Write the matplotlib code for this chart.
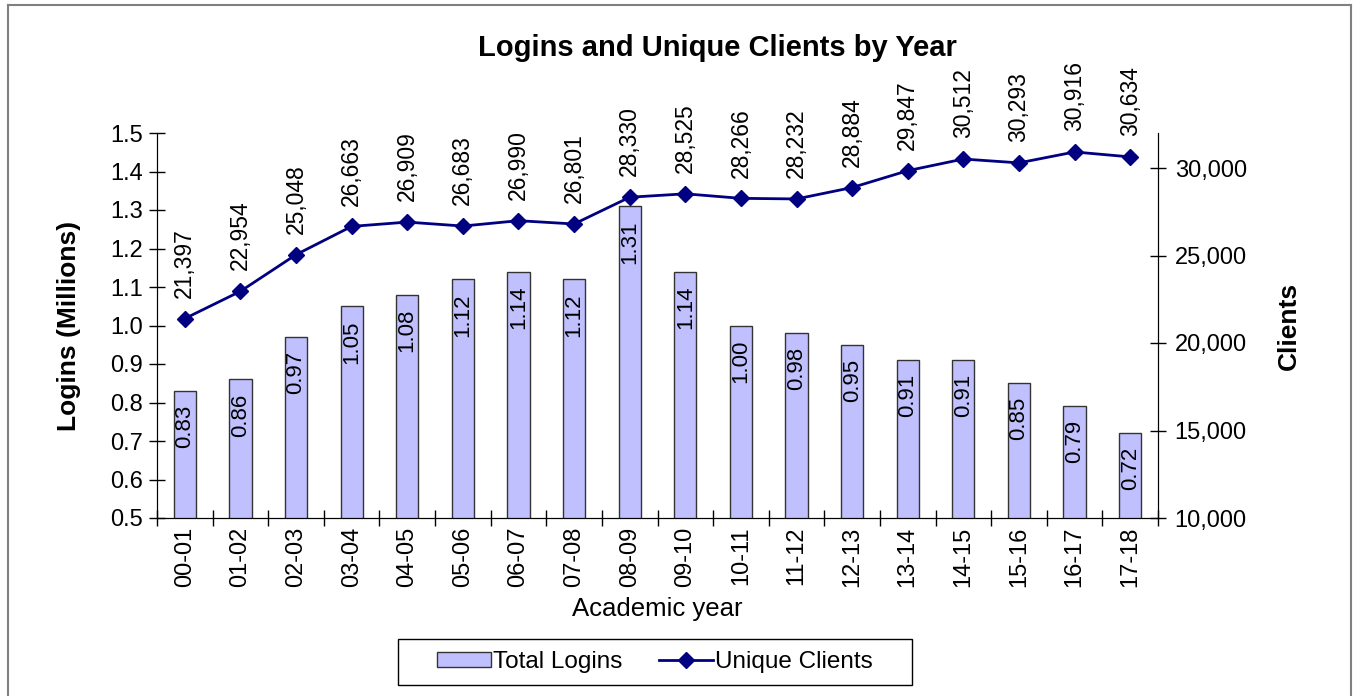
import numpy as np
import matplotlib.pyplot as plt
from matplotlib.lines import Line2D
from matplotlib.patches import Rectangle

plt.rcParams['font.family'] = ['Liberation Sans', 'DejaVu Sans']

years = ["00-01", "01-02", "02-03", "03-04", "04-05", "05-06", "06-07", "07-08", "08-09",
         "09-10", "10-11", "11-12", "12-13", "13-14", "14-15", "15-16", "16-17", "17-18"]
logins = [0.83, 0.86, 0.97, 1.05, 1.08, 1.12, 1.14, 1.12, 1.31,
          1.14, 1.00, 0.98, 0.95, 0.91, 0.91, 0.85, 0.79, 0.72]
clients = [21397, 22954, 25048, 26663, 26909, 26683, 26990, 26801, 28330,
           28525, 28266, 28232, 28884, 29847, 30512, 30293, 30916, 30634]

fig = plt.figure(figsize=(13.53, 6.96), dpi=100)
ax = fig.add_axes([157/1353, 1 - 518/696, (1158 - 157)/1353, (518 - 133)/696])
ax2 = ax.twinx()

x = np.arange(len(years))
bars = ax.bar(x, logins, width=0.4, color='#C0C0FF', edgecolor='#333333', linewidth=1,
              label='Total Logins')
for xi, v in zip(x, logins):
    ax.annotate(f"{v:.2f}", (xi, v), xytext=(0, -10), textcoords='offset points',
                rotation=90, ha='center', va='top', fontsize=16)

ax.set_ylim(0.5, 1.5)
ax.set_yticks(np.arange(0.5, 1.51, 0.1))
ax.set_yticklabels([f"{t:.1f}" for t in np.arange(0.5, 1.51, 0.1)])
ax.set_xlim(-0.5, len(years) - 0.5)
ax.set_xticks(x)
ax.set_xticklabels(years, rotation=90)
ax.set_xticks(np.arange(-0.5, len(years)), minor=True)
ax.tick_params(axis='x', which='major', length=0, labelsize=17, pad=6)
ax.tick_params(axis='x', which='minor', direction='inout', length=12, width=1)
ax.tick_params(axis='y', direction='inout', length=12, width=1, labelsize=17, pad=4)
ax.set_xlabel("Academic year", fontsize=18.5, labelpad=7)
ax.set_ylabel("Logins (Millions)", fontsize=19, fontweight='bold', labelpad=21)
ax.spines['top'].set_visible(False)

ax2.plot(x, clients, color='#000080', lw=2, marker='D', markersize=8, label='Unique Clients')
for xi, v in zip(x, clients):
    ax2.annotate(f"{v:,}", (xi, v), xytext=(0, 15), textcoords='offset points',
                 rotation=90, ha='center', va='bottom', fontsize=16.5)
ax2.set_ylim(10000, 32000)
ax2.set_yticks(range(10000, 30001, 5000))
ax2.set_yticklabels([f"{t:,}" for t in range(10000, 30001, 5000)])
ax2.tick_params(axis='y', direction='inout', length=12, width=1, labelsize=17, pad=6)
ax2.set_ylabel("Clients", fontsize=19, fontweight='bold', labelpad=22)
ax2.spines['top'].set_visible(False)

fig.text(717/1353, 1 - 48/696, "Logins and Unique Clients by Year", ha='center', va='center',
         fontsize=21, fontweight='bold')

handles = [bars, Line2D([], [], color='#000080', lw=2, marker='D', markersize=8)]
leg = fig.legend(handles, ["Total Logins", "Unique Clients"], loc='center',
                 bbox_to_anchor=(655/1353, 1 - 662/696), ncol=2, fontsize=17.5,
                 frameon=False, handlelength=2.2, handleheight=0.6, columnspacing=1.5,
                 handletextpad=0.1, borderaxespad=0)
# legend box, wider than the entries like in the original
fig.add_artist(Rectangle((398/1353, 1 - 685/696), (912 - 398)/1353, 46/696,
                         transform=fig.transFigure, fill=False, edgecolor='black', lw=1))

# outer chart border
border_kw = dict(color='#808080', lw=1.5, transform=fig.transFigure)
fig.add_artist(Line2D([8/1353, 8/1353], [0, 1 - 5/696], **border_kw))
fig.add_artist(Line2D([8/1353, 1351/1353], [1 - 5/696, 1 - 5/696], **border_kw))
fig.add_artist(Line2D([1351/1353, 1351/1353], [0, 1 - 5/696], **border_kw))

fig.savefig("out.png", dpi=100)
